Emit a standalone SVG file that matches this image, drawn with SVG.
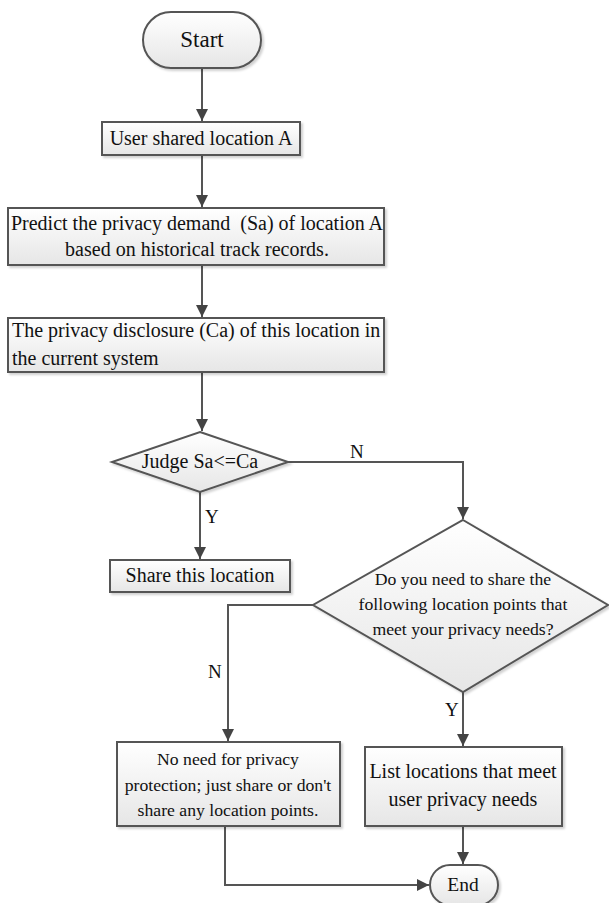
<svg xmlns="http://www.w3.org/2000/svg" width="609" height="903" viewBox="0 0 609 903">
<style>
.n{fill:url(#g);stroke:#555;stroke-width:2;filter:url(#s)}
.t{font-family:"Liberation Serif",serif;fill:#111;font-size:20px}
.m{font-size:17.7px}
.c{text-anchor:middle}
.e{fill:none;stroke:#555;stroke-width:2}
</style>
<defs>
<linearGradient id="g" x1="0" y1="0" x2="0" y2="1">
<stop offset="0" stop-color="#ffffff"/>
<stop offset="1" stop-color="#e6e6e6"/>
</linearGradient>
<filter id="s" x="-5%" y="-5%" width="112%" height="120%">
<feDropShadow dx="2" dy="2" stdDeviation="1" flood-color="#000" flood-opacity="0.18"/>
</filter>
<marker id="a" viewBox="0 0 10 10" refX="10" refY="5" markerWidth="6" markerHeight="7" orient="auto" markerUnits="strokeWidth">
<path d="M0,0L10,5L0,10z" fill="#444"/>
</marker>
</defs>
<rect width="609" height="903" fill="#fff"/>
<g id="connectors">
<path class="e" d="M202,68V121" marker-end="url(#a)"/>
<path class="e" d="M202,156V207" marker-end="url(#a)"/>
<path class="e" d="M202,265V317" marker-end="url(#a)"/>
<path class="e" d="M202,372V431" marker-end="url(#a)"/>
<path class="e" d="M288,462H463V519" marker-end="url(#a)"/>
<path class="e" d="M200,492V559" marker-end="url(#a)"/>
<path class="e" d="M313,605H228V741" marker-end="url(#a)"/>
<path class="e" d="M463,692V746" marker-end="url(#a)"/>
<path class="e" d="M463,826V864" marker-end="url(#a)"/>
<path class="e" d="M225,826V885H429" marker-end="url(#a)"/>
<text class="t" x="350" y="458" style="font-size:19px">N</text>
<text class="t" x="205" y="523" style="font-size:19px">Y</text>
<text class="t" x="208" y="678" style="font-size:19px">N</text>
<text class="t" x="445" y="716" style="font-size:19px">Y</text>
</g>
<g id="start">
<rect class="n" x="143" y="12" width="118" height="56" rx="28"/>
<text class="t c" x="202" y="47" style="font-size:23px">Start</text>
</g>
<g id="user-shared">
<rect class="n" x="102" y="122" width="198" height="33"/>
<text class="t c" x="201" y="145">User shared location A</text>
</g>
<g id="predict">
<rect class="n" x="8" y="208" width="376" height="57"/>
<text class="t c" x="197" y="230" style="white-space:pre">Predict the privacy demand  (Sa) of location A</text>
<text class="t c" x="197" y="256">based on historical track records.</text>
</g>
<g id="disclosure">
<rect class="n" x="8" y="318" width="376" height="54"/>
<text class="t" x="12" y="337">The privacy disclosure (Ca) of this location in</text>
<text class="t" x="12" y="365">the current system</text>
</g>
<g id="judge">
<polygon class="n" points="200,432 288,462 200,492 112,462"/>
<text class="t c" x="200" y="468">Judge Sa&lt;=Ca</text>
</g>
<g id="share">
<rect class="n" x="110" y="560" width="180" height="32"/>
<text class="t c" x="200" y="582">Share this location</text>
</g>
<g id="need-share">
<polygon class="n" points="463,520 608,605 463,692 313,605"/>
<text class="t c m" x="463" y="585">Do you need to share the</text>
<text class="t c m" x="463" y="610">following location points that</text>
<text class="t c m" x="463" y="635">meet your privacy needs?</text>
</g>
<g id="no-need">
<rect class="n" x="117" y="742" width="223" height="84"/>
<text class="t c m" x="228" y="765">No need for privacy</text>
<text class="t c m" x="228" y="791">protection; just share or don't</text>
<text class="t c m" x="228" y="816">share any location points.</text>
</g>
<g id="list">
<rect class="n" x="365" y="747" width="197" height="79"/>
<text class="t c" x="463" y="778">List locations that meet</text>
<text class="t c" x="463" y="806">user privacy needs</text>
</g>
<g id="end">
<rect class="n" x="430" y="865" width="68" height="40" rx="20"/>
<text class="t c" x="463" y="891" style="font-size:19.5px">End</text>
</g>
</svg>
